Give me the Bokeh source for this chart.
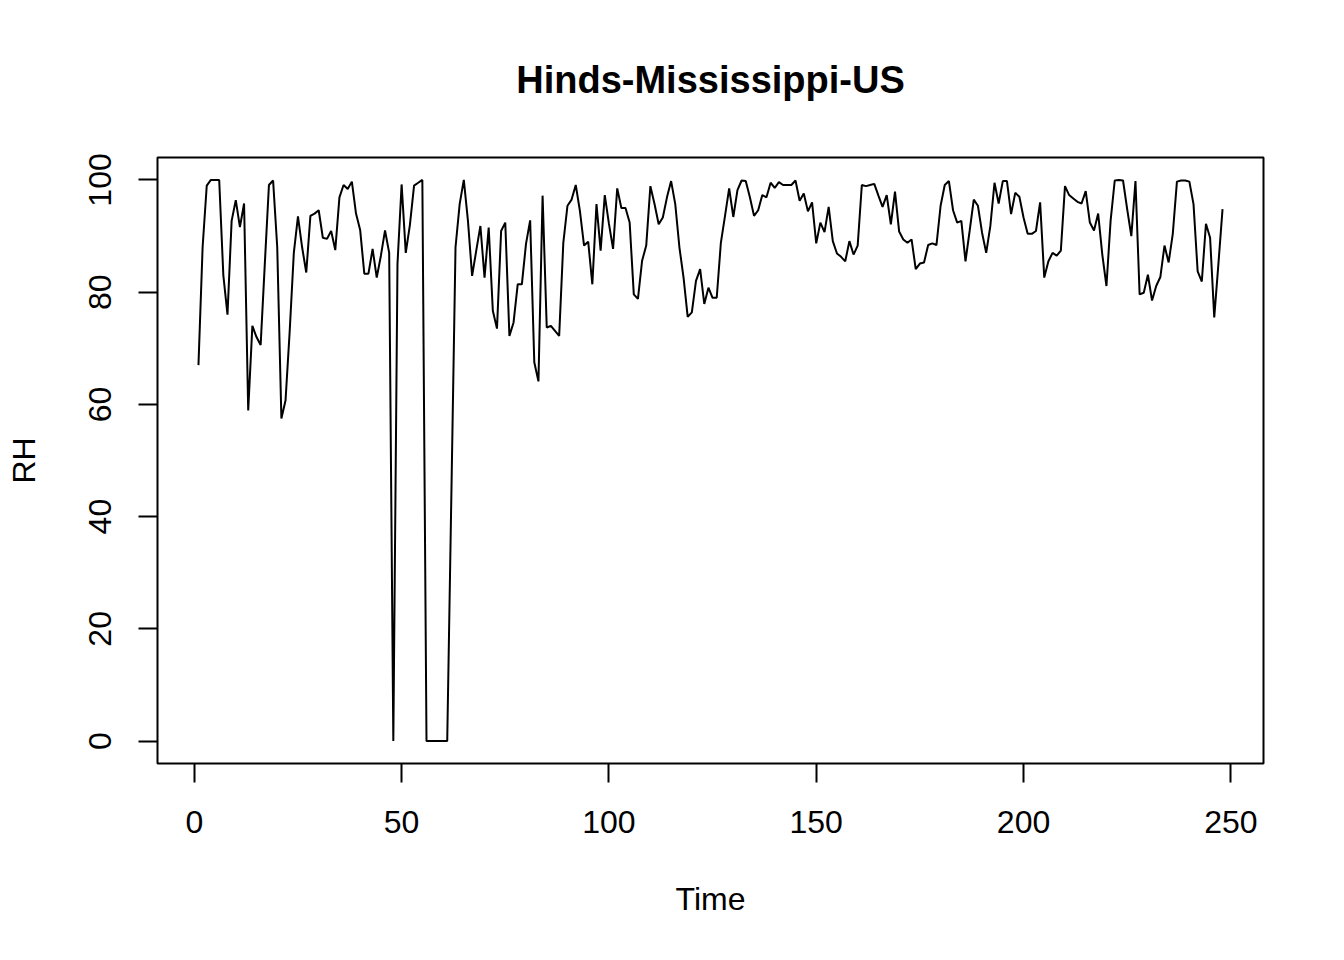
import numpy as np
from bokeh.plotting import figure
from bokeh.models import FixedTicker
from bokeh.embed import file_html
from bokeh.resources import INLINE

# relative humidity, one reading per time step (1..248)
rh = [
    67.0, 88.0, 99.0, 100.0, 100.0, 100.0, 83.0, 76.0, 92.7, 96.4,
    91.6, 95.8, 58.9, 74.0, 72.0, 70.6, 85.0, 99.1, 99.9, 88.0,
    57.5, 60.7, 73.0, 87.0, 93.5, 88.0, 83.5, 93.6, 94.0, 94.6,
    89.7, 89.5, 90.9, 87.5, 96.9, 99.1, 98.4, 99.7, 94.0, 91.1,
    83.3, 83.3, 87.7, 82.6, 86.5, 91.0, 87.0, 0.0, 85.0, 99.2,
    87.0, 92.0, 99.0, 99.5, 100.0, 0.0, 0.0, 0.0, 0.0, 0.0,
    0.0, 44.0, 88.0, 95.7, 100.0, 92.7, 82.9, 87.4, 91.8, 82.6,
    91.5, 76.7, 73.5, 90.9, 92.4, 72.2, 74.6, 81.4, 81.4, 88.6,
    92.8, 67.5, 64.1, 97.2, 73.7, 74.0, 73.1, 72.2, 88.8, 95.4,
    96.5, 99.1, 94.5, 88.3, 89.0, 81.4, 95.7, 87.4, 97.3, 92.2,
    87.7, 98.5, 95.0, 95.0, 92.4, 79.6, 78.8, 85.6, 88.3, 98.9,
    95.7, 92.1, 93.3, 96.9, 99.8, 95.7, 88.0, 82.6, 75.6, 76.4,
    82.0, 84.1, 77.9, 80.8, 79.0, 79.0, 88.8, 93.6, 98.5, 93.4,
    98.2, 99.9, 99.8, 96.9, 93.6, 94.6, 97.3, 96.9, 99.5, 98.6,
    99.6, 99.1, 99.1, 99.1, 99.9, 96.3, 97.6, 94.4, 96.0, 88.7,
    92.4, 90.7, 95.2, 89.1, 86.9, 86.3, 85.5, 89.1, 86.7, 88.3,
    99.1, 98.9, 99.1, 99.3, 97.2, 95.2, 97.3, 92.1, 97.9, 90.8,
    89.4, 88.8, 89.4, 84.1, 85.1, 85.3, 88.4, 88.7, 88.4, 95.4,
    99.1, 99.8, 94.6, 92.4, 92.7, 85.5, 90.9, 96.5, 95.4, 90.6,
    87.0, 91.8, 99.5, 95.8, 99.8, 99.8, 93.9, 97.7, 97.0, 93.3,
    90.4, 90.4, 90.9, 96.0, 82.6, 85.5, 87.0, 86.5, 87.4, 98.9,
    97.3, 96.7, 96.1, 95.8, 98.0, 92.4, 91.0, 94.0, 86.7, 81.1,
    92.7, 99.9, 100.0, 99.9, 94.8, 90.0, 99.8, 79.6, 79.9, 83.1,
    78.5, 81.1, 82.7, 88.3, 85.3, 90.4, 99.7, 99.9, 99.9, 99.7,
    95.7, 83.7, 81.9, 92.2, 89.7, 75.5, 85.0, 94.8,
]
time = list(range(1, len(rh) + 1))

x_ticks = [0, 50, 100, 150, 200, 250]
y_ticks = [0, 20, 40, 60, 80, 100]

FONT = "Liberation Sans"

# R-style ranges: data range padded by 4% on each side
x_pad = (max(time) - min(time)) * 0.04
y_pad = (max(rh) - min(rh)) * 0.04

p = figure(width=1344, height=960,
           x_range=(min(time) - x_pad, max(time) + x_pad),
           y_range=(min(rh) - y_pad, max(rh) + y_pad),
           output_backend="svg", toolbar_location=None,
           min_border_left=157, min_border_right=81,
           min_border_top=157, min_border_bottom=197)

p.line(time, rh, line_color="black", line_width=2)

# titulo
p.title.text = "Hinds-Mississippi-US"
p.title.align = "center"
p.title.text_font = FONT
p.title.text_font_size = "38px"
p.title.text_font_style = "bold"
p.title.text_color = "black"
p.title.standoff = 113

p.grid.visible = False
p.outline_line_color = "black"
p.outline_line_width = 2
p.background_fill_color = "white"
p.border_fill_color = "white"

p.xaxis.ticker = FixedTicker(ticks=x_ticks)
p.yaxis.ticker = FixedTicker(ticks=y_ticks)
p.xaxis.axis_label = "Time"
p.yaxis.axis_label = "RH"
p.yaxis.major_label_orientation = "vertical"

for ax in (p.xaxis, p.yaxis):
    ax.axis_line_color = None
    ax.major_tick_in = 0
    ax.major_tick_out = 19
    ax.major_tick_line_color = "black"
    ax.major_tick_line_width = 2
    ax.minor_tick_line_color = None
    ax.major_label_text_font = FONT
    ax.major_label_text_font_size = "32px"
    ax.major_label_text_color = "black"
    ax.axis_label_text_font = FONT
    ax.axis_label_text_font_size = "32px"
    ax.axis_label_text_font_style = "normal"
    ax.axis_label_text_color = "black"

p.xaxis.major_label_standoff = 28
p.xaxis.axis_label_standoff = 45
p.yaxis.major_label_standoff = 27
p.yaxis.axis_label_standoff = 45

open("out.html", "w").write(file_html(p, INLINE))
